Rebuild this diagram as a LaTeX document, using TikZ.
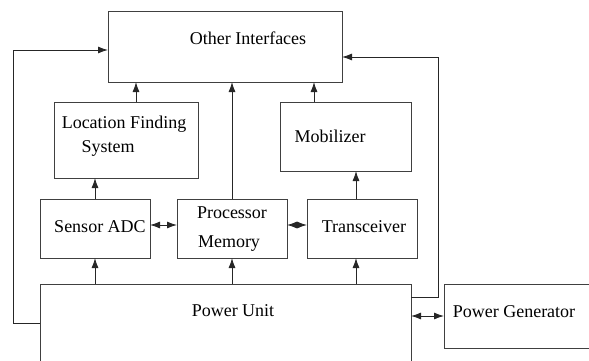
\documentclass[tikz,border=0pt]{standalone}
\usepackage{fontspec}
\setmainfont{Liberation Serif}
\usetikzlibrary{arrows.meta}
\begin{document}
\begin{tikzpicture}[x=1pt,y=-1pt,
  box/.style={draw=black!75,line width=0.9pt},
  conn/.style={draw=black!85,line width=0.9pt,-{Latex[length=10pt,width=7pt]}},
  dconn/.style={draw=black!85,line width=0.9pt,{Latex[length=10pt,width=7pt]}-{Latex[length=10pt,width=7pt]}},
  lbl/.style={font=\fontsize{18}{21}\selectfont,inner sep=0pt}]
\useasboundingbox (0,0) rectangle (589,361);
% boxes
\draw[box] (108,11) rectangle (342,82);
\node[lbl] (oit) at (248,38) {Other Interfaces};
\coordinate (oi-l) at (108,50);
\coordinate (oi-r) at (342,57);
\draw[box] (54,102) rectangle (198,178);
\node[lbl,align=left] (lfs) at (124,136) {Location Finding\\[3pt]\hspace*{1.1em}System};
\draw[box] (280,102) rectangle (411,171);
\node[lbl] (mob) at (330,136) {Mobilizer};
\draw[box] (40,199) rectangle (150,258);
\node[lbl] (sadc) at (100,227) {Sensor ADC};
\draw[box] (177,199) rectangle (287,258);
\node[lbl] at (232,213) {Processor};
\node[lbl] at (229,244) {Memory};
\draw[box] (307,199) rectangle (417,258);
\node[lbl] (trx) at (364,227) {Transceiver};
\draw[box] (40,361) -- (40,284) -- (411,284) -- (411,361);
\node[lbl] (pu) at (233,311) {Power Unit};
\draw[box] (589,284) -- (444,284) -- (444,348) -- (589,348);
\node[lbl] (pg) at (514,312) {Power Generator};
% connectors
\draw[conn] (136,102) -- (136,82);
\draw[conn] (232,199) -- (232,82);
\draw[conn] (314,102) -- (314,82);
\draw[conn] (95,199) -- (95,178);
\draw[conn] (356,199) -- (356,171);
\draw[dconn] (150,225) -- (177,225);
\draw[dconn] (287,225) -- (307,225);
\draw[conn] (95,284) -- (95,258);
\draw[conn] (232,284) -- (232,258);
\draw[conn] (356,284) -- (356,258);
\draw[dconn] (411,316) -- (444,316);
\draw[conn] (40,323) -- (13,323) -- (13,50) -- (108,50);
\draw[conn] (411,297) -- (438,297) -- (438,57) -- (342,57);
\end{tikzpicture}
\end{document}
